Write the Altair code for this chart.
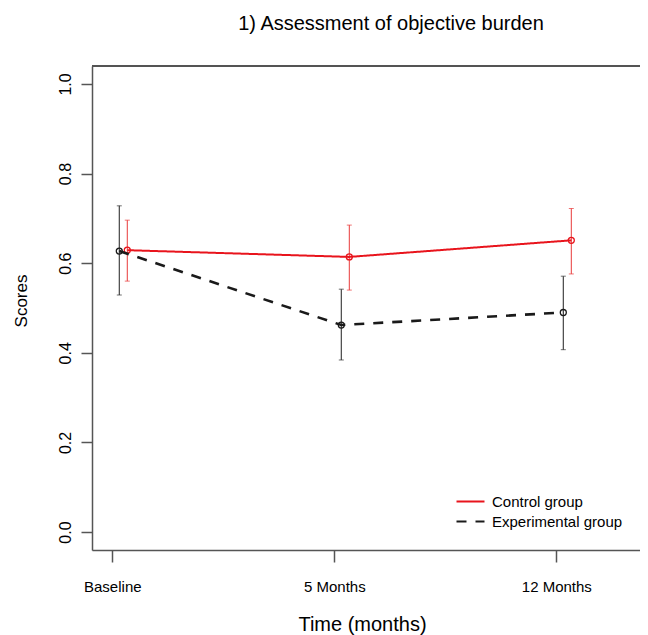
import altair as alt
import pandas as pd

# ---- data ----
times = ["Baseline", "5 Months", "12 Months"]
time_idx = [1, 2, 3]
groups = ["Control group", "Experimental group"]

control_mean = [0.629, 0.614, 0.651]
control_lo = [0.560, 0.540, 0.576]
control_hi = [0.696, 0.685, 0.722]

exp_mean = [0.627, 0.462, 0.490]
exp_lo = [0.529, 0.384, 0.407]
exp_hi = [0.728, 0.542, 0.571]

y_ticks = [0.0, 0.2, 0.4, 0.6, 0.8, 1.0]

rows = []
for g, m, lo, hi in [(groups[0], control_mean, control_lo, control_hi),
                     (groups[1], exp_mean, exp_lo, exp_hi)]:
    for t, i, mv, l, h in zip(times, time_idx, m, lo, hi):
        rows.append({"time": t, "idx": i, "group": g, "mean": mv, "lo": l, "hi": h})
df = pd.DataFrame(rows)

# ---- styling ----
FONT = "Liberation Sans"
RED = "#e8141c"
RED_BAR = "#e83a3a"
BLACK = "#1a1a1a"
AXIS = "#555555"
W, H = 548, 484

label_expr = "[" + ",".join("'%s'" % t for t in times) + "][datum.value - 1]"

x_enc = alt.X(
    "idx:Q",
    scale=alt.Scale(domain=[0.9086, 3.377], nice=False, zero=False),
    axis=alt.Axis(
        values=time_idx, labelExpr=label_expr, grid=False,
        tickSize=12, tickColor=AXIS, tickWidth=1.5,
        domainColor=AXIS, domainWidth=1.5,
        labelFontSize=15, labelColor="black", labelPadding=17, labelFont=FONT,
        title="Time (months)", titleFontSize=20, titleFontWeight="normal",
        titleFont=FONT, titleColor="black",
        titleX=270, titleY=80, titleAlign="center", titleBaseline="alphabetic",
    ),
)

y_scale = alt.Scale(domain=[-0.04, 1.04], nice=False, zero=False)
y_axis = alt.Axis(
    values=y_ticks, format=".1f", grid=False,
    tickSize=11, tickColor=AXIS, tickWidth=1.5,
    domainColor=AXIS, domainWidth=1.5,
    labelFontSize=16, labelColor="black", labelAngle=270,
    labelAlign="center", labelBaseline="alphabetic", labelPadding=11, labelFont=FONT,
    title="Scores", titleFontSize=17, titleFontWeight="normal", titleFont=FONT,
    titleColor="black", titleAngle=270, titleX=-66, titleY=234.5,
    titleAlign="center", titleBaseline="alphabetic",
)

legend = alt.Legend(
    title=None, orient="none", legendX=367, legendY=424,
    symbolType="M-1.4,0L1.4,0", symbolSize=400, symbolStrokeWidth=2.2,
    labelFontSize=15, labelFont=FONT, labelColor="black", labelOffset=10,
    rowPadding=0, padding=0,
)

color_enc = alt.Color("group:N", scale=alt.Scale(domain=groups, range=[RED, BLACK]),
                      legend=legend)
dash_enc = alt.StrokeDash("group:N",
                          scale=alt.Scale(domain=groups, range=[[1, 0], [10, 9]]),
                          legend=legend)

base = alt.Chart(df)

layers = []
specs = [(groups[0], RED, RED_BAR, 15, 2.0, 1.0),
         (groups[1], BLACK, "#333333", 7, 2.6, 1.1)]
for g, col, barcol, off, lw, bw in specs:
    sub = base.transform_filter(alt.datum.group == g)
    layers.append(
        sub.mark_rule(color=barcol, strokeWidth=bw, xOffset=off).encode(
            x=x_enc, y=alt.Y("lo:Q", scale=y_scale, axis=y_axis), y2="hi:Q")
    )
    for fld in ["lo", "hi"]:
        layers.append(
            sub.mark_tick(color=barcol, orient="horizontal", size=5, thickness=1,
                          xOffset=off).encode(x=x_enc, y=alt.Y(f"{fld}:Q", scale=y_scale))
        )
    layers.append(
        sub.mark_line(strokeWidth=lw, xOffset=off).encode(
            x=x_enc, y=alt.Y("mean:Q", scale=y_scale), color=color_enc,
            strokeDash=dash_enc, order="idx:Q")
    )
    layers.append(
        sub.mark_point(shape="circle", filled=False, size=36, strokeWidth=1.3,
                       color=col, opacity=1, xOffset=off).encode(
            x=x_enc, y=alt.Y("mean:Q", scale=y_scale))
    )

top_border = alt.Chart(df).mark_rule(color=AXIS, strokeWidth=1.5).encode(
    x=alt.value(0), x2=alt.value(W), y=alt.value(0))

chart = alt.layer(*layers, top_border).properties(
    width=W, height=H,
    autosize=alt.AutoSizeParams(type="none"),
    padding={"left": 84, "top": 58, "right": 0, "bottom": 85},
    title=alt.TitleParams(
        "1) Assessment of objective burden", fontSize=20, fontWeight="normal",
        font=FONT, color="black", anchor="middle", frame="group", dx=25, dy=21,
        offset=36, baseline="alphabetic",
    ),
).configure_view(stroke=None).configure(font=FONT)

chart.save("out.html", embed_options={"renderer": "svg", "actions": False})
